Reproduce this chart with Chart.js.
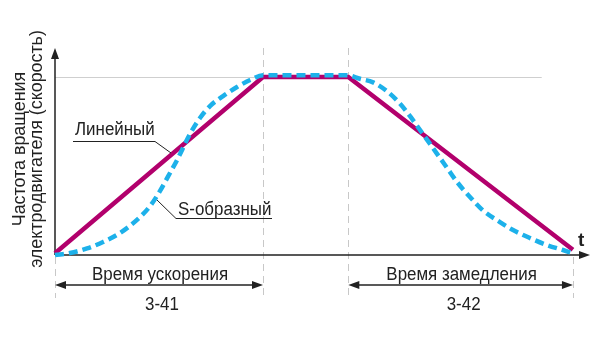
<!DOCTYPE html>
<html>
<head>
<meta charset="utf-8">
<script src="https://cdn.jsdelivr.net/npm/chart.js@4/dist/chart.umd.min.js"></script>
<style>
  html, body { margin: 0; padding: 0; background: #fff; }
  #wrap { width: 600px; height: 350px; position: relative; }
</style>
</head>
<body>
<div id="wrap"><canvas id="speedChart"></canvas></div>
<script>
// linear ramp: accel, constant speed, decel
const timeLinear = [0, 10, 14.1, 24.9];
const speedLinear = [0.01, 1.0, 1.0, 0.03];

// S-curve ramp
const timeS = [0, 0.72, 1.54, 2.31, 3.13, 3.94, 4.57, 5.05, 5.43, 5.87, 6.49, 6.97, 7.45, 8.08, 8.75, 9.38, 10,
               14.04, 14.66, 15.29, 15.96, 16.59, 17.07, 17.55, 18.03, 18.51, 18.85, 19.33, 19.95, 20.58,
               21.39, 22.02, 22.84, 23.65, 24.42, 24.86];
const speedS = [0, 0.011, 0.037, 0.073, 0.124, 0.197, 0.275, 0.36, 0.44, 0.534, 0.68, 0.77, 0.837, 0.893, 0.944, 0.983, 1.01,
                1.01, 0.99, 0.97, 0.92, 0.85, 0.78, 0.702, 0.624, 0.545, 0.489, 0.41, 0.326, 0.25,
                0.185, 0.14, 0.095, 0.056, 0.028, 0.011];

const seriesNames = ['Линейный', 'S-образный'];
const yTitle = ['Частота вращения', 'электродвигателя (скорость)'];
const phaseNames = ['Время ускорения', 'Время замедления'];
const phaseParams = ['3-41', '3-42'];
// phase boundaries on the time axis
const accelSpan = [0, 10];
const decelSpan = [14.1, 24.9];

const FONT = '"Liberation Sans Narrow", "Arial Narrow", "Liberation Sans", sans-serif';
const MAGENTA = '#b2006c';
const BLUE = '#1db1ea';
const SQUEEZE = 0.94;

function arrowHead(ctx, x, y, dir) {
  // dir: 'l', 'r', 'u'
  ctx.beginPath();
  if (dir === 'r') { ctx.moveTo(x, y); ctx.lineTo(x - 11, y - 4); ctx.lineTo(x - 11, y + 4); }
  if (dir === 'l') { ctx.moveTo(x, y); ctx.lineTo(x + 11, y - 4); ctx.lineTo(x + 11, y + 4); }
  if (dir === 'u') { ctx.moveTo(x, y); ctx.lineTo(x - 4, y + 11); ctx.lineTo(x + 4, y + 11); }
  ctx.closePath();
  ctx.fill();
}

// slightly condensed text
function narrowText(ctx, str, x, y) {
  ctx.save();
  ctx.translate(x, y);
  ctx.scale(SQUEEZE, 1);
  ctx.fillText(str, 0, 0);
  ctx.restore();
}

const diagramParts = {
  id: 'diagramParts',
  beforeDatasetsDraw(chart) {
    const ctx = chart.ctx;
    const xs = chart.scales.x, ys = chart.scales.y;
    const area = chart.chartArea;
    const x0 = xs.getPixelForValue(0), y0 = ys.getPixelForValue(0);
    const yTop = ys.getPixelForValue(1);
    ctx.save();

    // reference level of full speed
    ctx.strokeStyle = '#cfcfcf';
    ctx.lineWidth = 1;
    ctx.beginPath();
    ctx.moveTo(x0, yTop + 0.5);
    ctx.lineTo(xs.getPixelForValue(23.4), yTop + 0.5);
    ctx.stroke();

    // dashed phase boundaries
    ctx.setLineDash([7, 5]);
    ctx.strokeStyle = '#c8c8c8';
    [accelSpan[1], decelSpan[0]].forEach(v => {
      const px = Math.round(xs.getPixelForValue(v)) + 0.5;
      ctx.beginPath(); ctx.moveTo(px, area.top); ctx.lineTo(px, y0 + 43); ctx.stroke();
    });
    [accelSpan[0], decelSpan[1]].forEach(v => {
      const px = Math.round(xs.getPixelForValue(v)) + 0.5;
      ctx.beginPath(); ctx.moveTo(px, y0 + 2); ctx.lineTo(px, y0 + 43); ctx.stroke();
    });
    ctx.setLineDash([]);

    // axes
    ctx.strokeStyle = '#222';
    ctx.fillStyle = '#222';
    ctx.lineWidth = 1.5;
    ctx.beginPath();
    ctx.moveTo(x0, y0); ctx.lineTo(area.right - 4, y0);
    ctx.moveTo(x0, y0); ctx.lineTo(x0, area.top + 4);
    ctx.stroke();
    arrowHead(ctx, area.right, y0, 'r');
    arrowHead(ctx, x0, area.top, 'u');
    ctx.restore();
  },
  afterDraw(chart) {
    const ctx = chart.ctx;
    const xs = chart.scales.x, ys = chart.scales.y;
    const area = chart.chartArea;
    const y0 = ys.getPixelForValue(0);
    ctx.save();
    ctx.fillStyle = '#222';
    ctx.strokeStyle = '#222';

    // axis name t
    ctx.font = 'bold 19px ' + FONT;
    ctx.textAlign = 'left';
    ctx.textBaseline = 'alphabetic';
    ctx.fillText('t', area.right - 12, y0 - 9);

    // vertical axis title
    ctx.font = '19px ' + FONT;
    ctx.textAlign = 'center';
    ctx.save();
    ctx.translate(25, 149);
    ctx.rotate(-Math.PI / 2);
    narrowText(ctx, yTitle[0], 0, 0);
    narrowText(ctx, yTitle[1], 0, 17);
    ctx.restore();

    // series callouts with leader lines
    ctx.font = '18px ' + FONT;
    ctx.textAlign = 'left';
    narrowText(ctx, seriesNames[0], 75, 135);
    narrowText(ctx, seriesNames[1], 178, 215);
    ctx.lineWidth = 1;
    ctx.beginPath();
    ctx.moveTo(73, 141.5); ctx.lineTo(155, 141.5); ctx.lineTo(171, 153);
    ctx.moveTo(157, 200); ctx.lineTo(176, 218.5); ctx.lineTo(272, 218.5);
    ctx.stroke();

    // phase spans with double arrows
    const spans = [accelSpan, decelSpan];
    spans.forEach((s, i) => {
      const a = xs.getPixelForValue(s[0]), b = xs.getPixelForValue(s[1]);
      const mid = (a + b) / 2;
      const yArr = y0 + 30;
      ctx.lineWidth = 1.3;
      ctx.beginPath(); ctx.moveTo(a + 6, yArr); ctx.lineTo(b - 6, yArr); ctx.stroke();
      arrowHead(ctx, a, yArr, 'l');
      arrowHead(ctx, b, yArr, 'r');
      ctx.textAlign = 'center';
      ctx.font = '18px ' + FONT;
      narrowText(ctx, phaseNames[i], mid + 1, y0 + 25);
      narrowText(ctx, phaseParams[i], mid + 3, y0 + 55);
    });
    ctx.restore();
  }
};

const ctx = document.getElementById('speedChart');
new Chart(ctx, {
  type: 'line',
  data: {
    datasets: [{
      label: seriesNames[1],
      data: timeS.map((t, i) => ({ x: t, y: speedS[i] })),
      borderColor: BLUE,
      borderWidth: 4.5,
      borderDash: [9, 5],
      cubicInterpolationMode: 'monotone',
      pointRadius: 0,
      fill: false,
      clip: false,
      order: 1
    }, {
      label: seriesNames[0],
      data: timeLinear.map((t, i) => ({ x: t, y: speedLinear[i] })),
      borderColor: MAGENTA,
      borderWidth: 4.5,
      borderJoinStyle: 'miter',
      tension: 0,
      pointRadius: 0,
      fill: false,
      clip: false,
      order: 2
    }]
  },
  options: {
    responsive: true,
    maintainAspectRatio: false,
    animation: false,
    layout: { padding: { left: 55, right: 10, top: 48, bottom: 95 } },
    plugins: {
      legend: { display: false },
      tooltip: { enabled: false }
    },
    scales: {
      x: { type: 'linear', min: 0, max: 25.72, display: false },
      y: { min: 0, max: 1.163, display: false }
    }
  },
  plugins: [diagramParts]
});
</script>
</body>
</html>
